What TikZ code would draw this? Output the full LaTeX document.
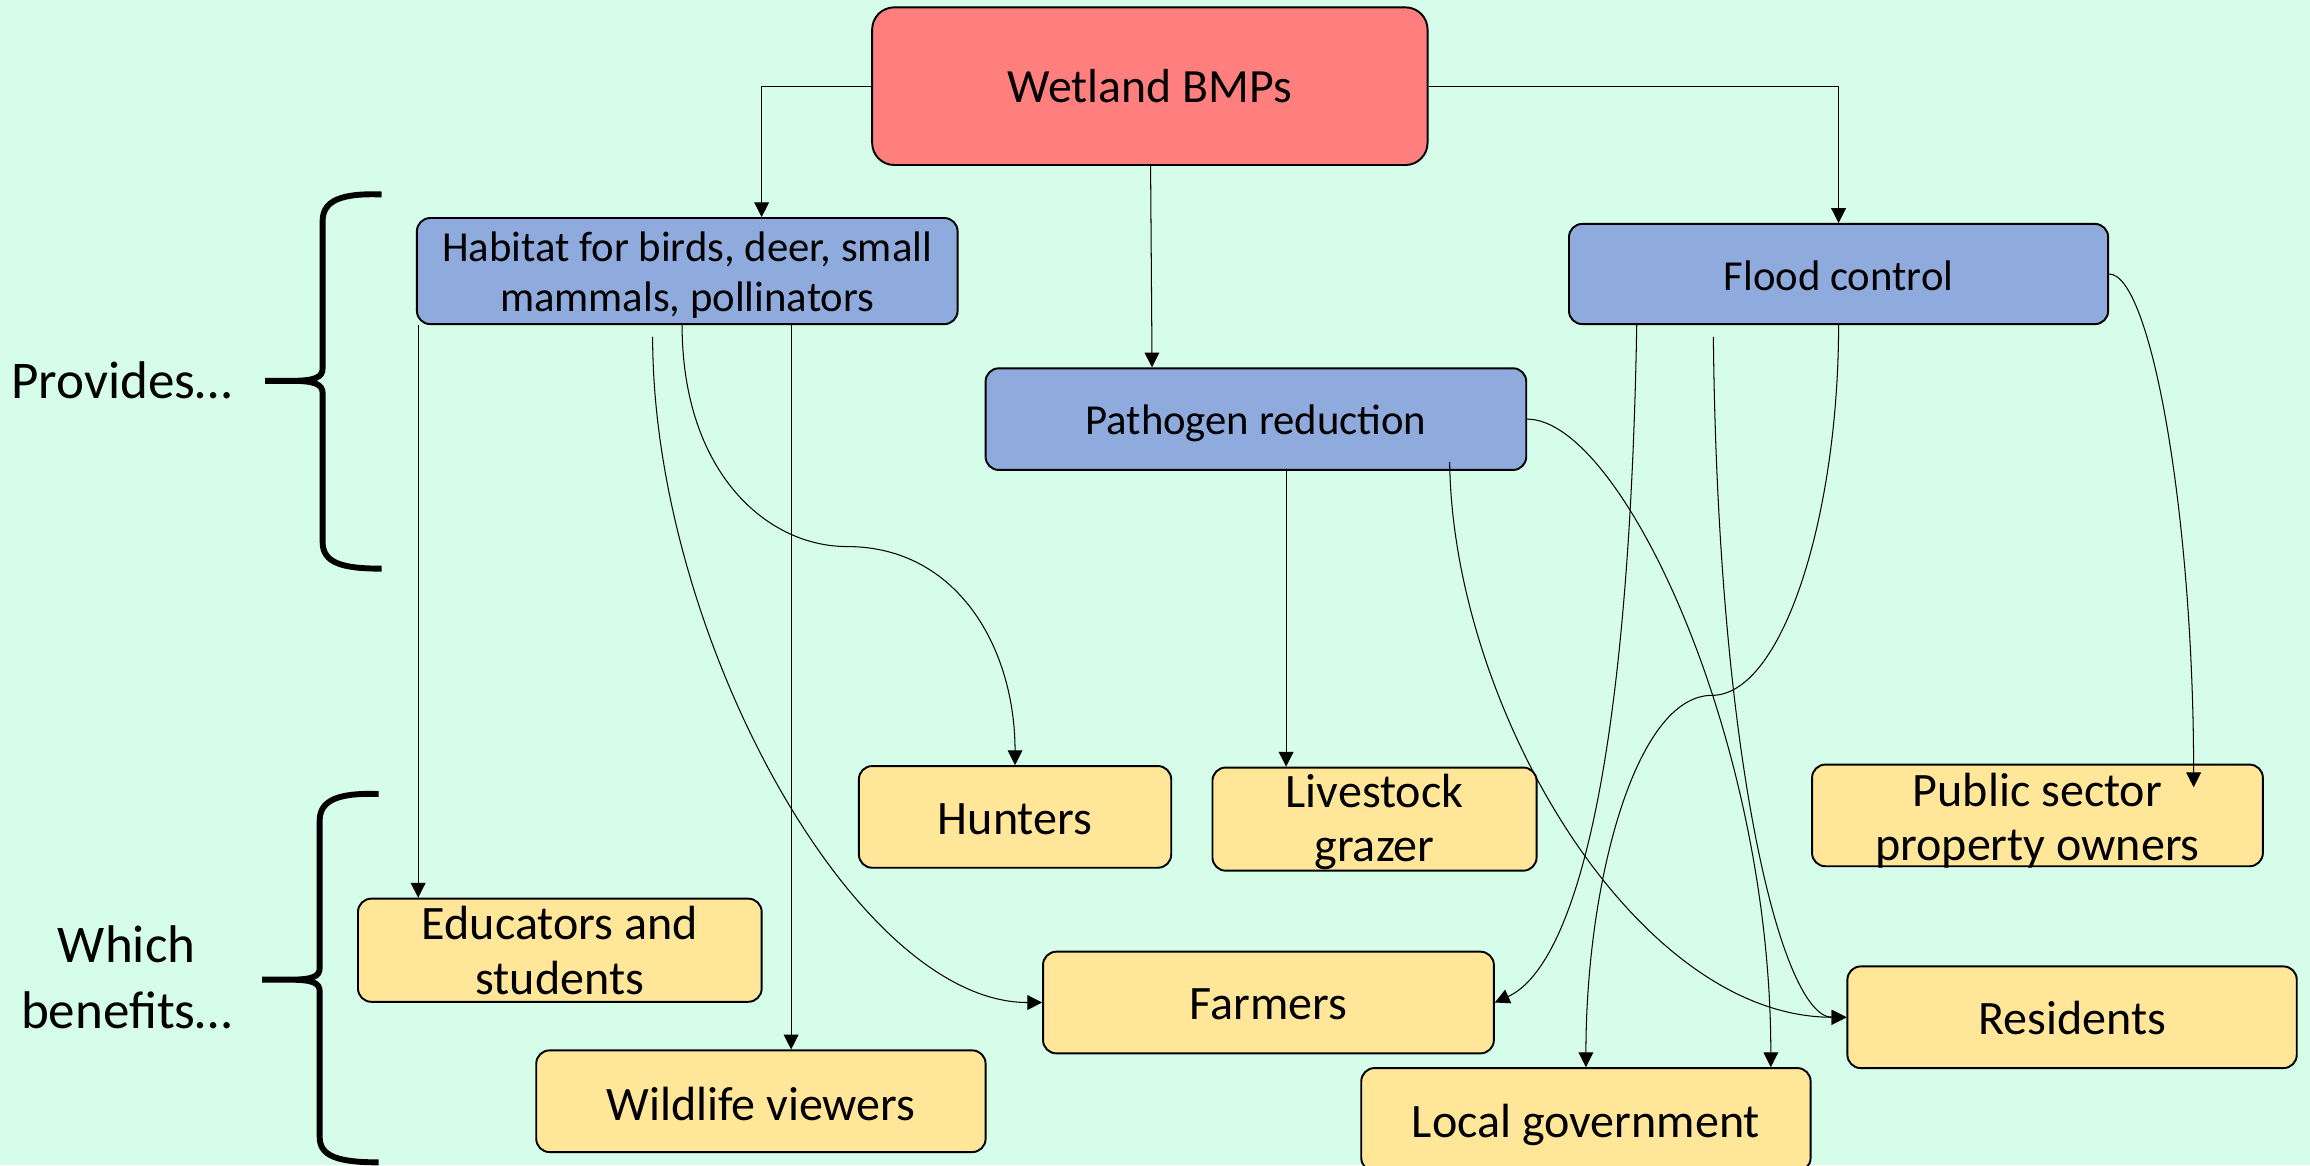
\documentclass[tikz,border=0pt]{standalone}
\usepackage{fontspec}
\setmainfont{Carlito}
\usetikzlibrary{arrows.meta,calc}
\definecolor{bgmint}{RGB}{213,253,233}
\definecolor{rootred}{RGB}{255,127,127}
\definecolor{effblue}{RGB}{143,170,220}
\definecolor{benyellow}{RGB}{255,230,153}
% lower a label inside its box without changing the box's centering
\newcommand\dropone[2]{\raisebox{-#1}[\height][\depth]{#2}}
\newcommand\droptwo[2]{\raisebox{-#1}[\dimexpr\height-5pt\relax][\dimexpr\depth-5pt\relax]{\begin{tabular}{@{}c@{}}#2\end{tabular}}}
\begin{document}
\begin{tikzpicture}[x=1pt,y=-1pt,
  box/.style={draw=black, line width=1.3pt, rounded corners=9pt, inner sep=0pt, align=center, text=black},
  rootbox/.style={box, fill=rootred, rounded corners=15pt, font=\fontsize{32.4}{38}\selectfont},
  effbox/.style={box, fill=effblue, font=\fontsize{29}{34}\selectfont},
  benbox/.style={box, fill=benyellow, font=\fontsize{32.6}{37}\selectfont},
  conn/.style={-{Triangle[length=10pt,width=10pt]}, line width=0.7pt},
  bracket/.style={line width=4pt},
  side/.style={font=\fontsize{36}{45}\selectfont, align=center}
]
% canvas
\fill[bgmint] (0,0) rectangle (1568,791);
\useasboundingbox (0,0) rectangle (1568,791);

% root
\node[rootbox, minimum width=377pt, minimum height=107pt] (wet) at (780.5,58.5) {Wetland BMPs};

% services
\node[effbox, minimum width=367pt, minimum height=72pt] (hab) at (466.5,184) {\droptwo{3.5pt}{Habitat for birds, deer, small\\mammals, pollinators}};
\node[effbox, minimum width=366pt, minimum height=68pt] (flood) at (1248,186) {\dropone{1pt}{Flood control}};
\node[effbox, minimum width=367pt, minimum height=69pt] (path) at (852.5,284.5) {\dropone{3pt}{Pathogen reduction}};

% beneficiaries
\node[benbox, minimum width=212pt, minimum height=69pt] (hunt) at (689,554.5) {\dropone{1.5pt}{Hunters}};
\node[benbox, minimum width=220pt, minimum height=70pt] (live) at (933,556) {\droptwo{3pt}{Livestock\\grazer}};
\node[benbox, minimum width=306pt, minimum height=69pt] (pub) at (1383,553.5) {\droptwo{5pt}{Public sector\\property owners}};
\node[benbox, minimum width=274pt, minimum height=70pt] (edu) at (380,645) {\droptwo{4pt}{Educators and\\students}};
\node[benbox, minimum width=306pt, minimum height=69pt] (farm) at (861,680.5) {\dropone{1pt}{Farmers}};
\node[benbox, minimum width=305pt, minimum height=69pt] (res) at (1406.5,690.5) {\dropone{0.5pt}{Residents}};
\node[benbox, minimum width=305pt, minimum height=69pt] (wild) at (516.5,747.5) {\dropone{2pt}{Wildlife viewers}};
\node[benbox, minimum width=305pt, minimum height=70pt] (loc) at (1076.5,760) {\dropone{3.5pt}{Local government}};

% side labels
\node[side] (provides) at (82.5,258) {Provides…};
\node[side] (benefits) at (86,663.5) {Which\\benefits…};

% brackets
\draw[bracket] (259,132) .. controls (232,131) and (219,136) .. (219,150) -- (219,250)
  .. controls (219,256) and (214,258.5) .. (198,258.5) -- (180,258.5)
  -- (198,258.5) .. controls (214,258.5) and (219,261) .. (219,267) -- (219,368)
  .. controls (219,382) and (232,386) .. (259,386);
\draw[bracket] (257,539) .. controls (230,538) and (217,543) .. (217,557) -- (217,657)
  .. controls (217,663) and (212,665) .. (196,665) -- (178,665)
  -- (196,665) .. controls (212,665) and (217,667) .. (217,673) -- (217,772)
  .. controls (217,785) and (230,789) .. (257,789);

% root to services
\draw[conn] (wet.west) -| ($(hab.north)+(50.5,0)$);
\draw[conn] (wet.east) -| (flood.north);
\draw[conn] ($(wet.south)+(0.5,0)$) -- ($(path.north)+(-70.5,0)$);

% habitat links
\coordinate (edutop) at ($(hab.south west)+(1.5,0)$);
\draw[conn] (edutop) -- (edutop |- edu.north);
\coordinate (wildtop) at ($(hab.south)+(70.5,0)$);
\draw[conn] (wildtop) -- (wildtop |- wild.north);
\coordinate (huntbend) at (575,371);
\draw[conn] ($(hab.south)+(-3.5,0)$) .. controls (463,320) and (520,371) .. (huntbend)
  .. controls (650,371) and (689,440) .. (hunt.north);
\draw[conn] ($(hab.south)+(-23.5,8)$) .. controls (443,430) and (580,680.5) .. (farm.west);

% pathogen links
\coordinate (livetop) at ($(path.south)+(20.5,0)$);
\draw[conn] (livetop) -- (livetop |- live.north);
\draw[conn] ($(path.south)+(131.5,-6)$) .. controls (986,480) and (1110,690.5) .. (res.west);
\draw[conn] (path.east) .. controls (1100,284.5) and (1202,500) .. ($(loc.north)+(125.5,0)$);

% flood links
\draw[conn] ($(flood.south)+(-137,0)$) .. controls (1105,560) and (1060,660) .. (farm.east);
\draw[conn] ($(flood.south)+(-85,8)$) .. controls (1166,520) and (1210,690.5) .. (res.west);
\coordinate (locbend) at (1162,472);
\draw[conn] (flood.south) .. controls (1248,350) and (1210,472) .. (locbend)
  .. controls (1110,472) and (1076.5,600) .. (loc.north);
\draw[conn] (flood.east) .. controls (1460,186) and (1489,350) .. ($(pub.north)+(106,16)$);
\end{tikzpicture}
\end{document}
